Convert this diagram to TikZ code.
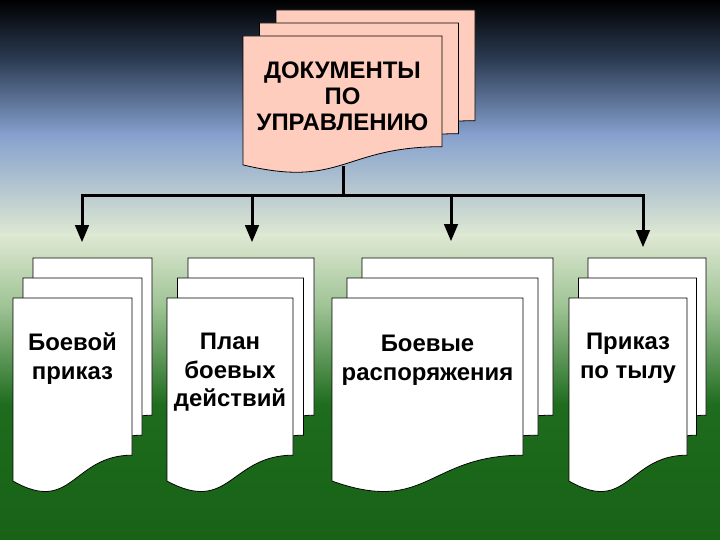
\documentclass[tikz,border=0pt]{standalone}
\usepackage{fontspec}
\setmainfont{Liberation Sans}
\usetikzlibrary{arrows}

\definecolor{bgA}{RGB}{44,60,84}
\definecolor{bgB}{RGB}{134,161,206}
\definecolor{bgC}{RGB}{222,232,210}
\definecolor{bgD}{RGB}{160,196,150}
\definecolor{bgE}{RGB}{30,108,30}
\definecolor{bgF}{RGB}{24,98,22}
\definecolor{rose}{RGB}{255,205,190}

% one sheet with a wavy lower edge: x, y (top), width, height, fill
\newcommand{\docpage}[5]{%
  \filldraw[page,fill=#5] (#1,#2) -- ({#1+#3},#2) -- ({#1+#3},{#2+0.802*#4})
    .. controls ({#1+0.5*#3},{#2+0.802*#4}) and ({#1+0.5*#3},{#2+1.1075*#4})
    .. (#1,{#2+0.934*#4}) -- cycle;}
% three sheets: x, y of the front one, width, height, shift x, shift y, fill
\newcommand{\docstack}[7]{%
  \docpage{#1+2*#5}{#2-2*#6}{#3}{#4}{#7}
  \docpage{#1+#5}{#2-#6}{#3}{#4}{#7}
  \docpage{#1}{#2}{#3}{#4}{#7}}

\begin{document}
\begin{tikzpicture}[x=1bp,y=-1bp,>=triangle 45,
    page/.style={draw=black,line width=0.8bp},
    link/.style={line width=3bp},
    title/.style={font=\bfseries\fontsize{24}{26}\selectfont,
      align=center,inner sep=0pt,anchor=north},
    label/.style={font=\bfseries\fontsize{24}{28.5}\selectfont,
      align=center,inner sep=0pt,anchor=north}]
  \useasboundingbox (0,0) rectangle (720,540);

  % background
  \shade[top color=black,bottom color=bgA] (0,0) rectangle (720,60);
  \shade[top color=bgA,bottom color=bgB] (0,60) rectangle (720,135);
  \shade[top color=bgB,bottom color=bgC] (0,135) rectangle (720,235);
  \shade[top color=bgC,bottom color=bgD] (0,235) rectangle (720,305);
  \shade[top color=bgD,bottom color=bgE] (0,305) rectangle (720,405);
  \shade[top color=bgE,bottom color=bgF] (0,405) rectangle (720,540);

  % sheets
  \docstack{243}{36}{199}{138}{16.5}{13}{rose}
  \docstack{13}{298}{119}{196}{10}{20}{white}
  \docstack{167}{298}{126}{196}{10.5}{20}{white}
  \docstack{332}{298}{191}{196}{15}{20}{white}
  \docstack{569}{298}{118}{196}{9.5}{20}{white}

  % texts
  \node[title] (upr) at (342.5,62) {ДОКУМЕНТЫ\\ПО\\УПРАВЛЕНИЮ};
  \node[label] (boev) at (72.5,333) {Боевой\\приказ};
  \node[label] (plan) at (230,333) {План\\боевых\\действий};
  \node[label] (rasp) at (427.5,335) {Боевые\\распоряжения};
  \node[label] (tyl) at (628,333) {Приказ\\по тылу};

  % links
  \coordinate (upr-bot) at (343,166);
  \coordinate (hub) at (343,196);
  \coordinate (a1) at (82,242);
  \coordinate (a2) at (252,242);
  \coordinate (a3) at (451,241);
  \coordinate (a4) at (643,247);
  \draw[link] (upr-bot) -- (hub);
  \draw[link,->] (hub) -| (a1);
  \draw[link,->] (hub) -| (a2);
  \draw[link,->] (hub) -| (a3);
  \draw[link,->] (hub) -| (a4);
\end{tikzpicture}
\end{document}
